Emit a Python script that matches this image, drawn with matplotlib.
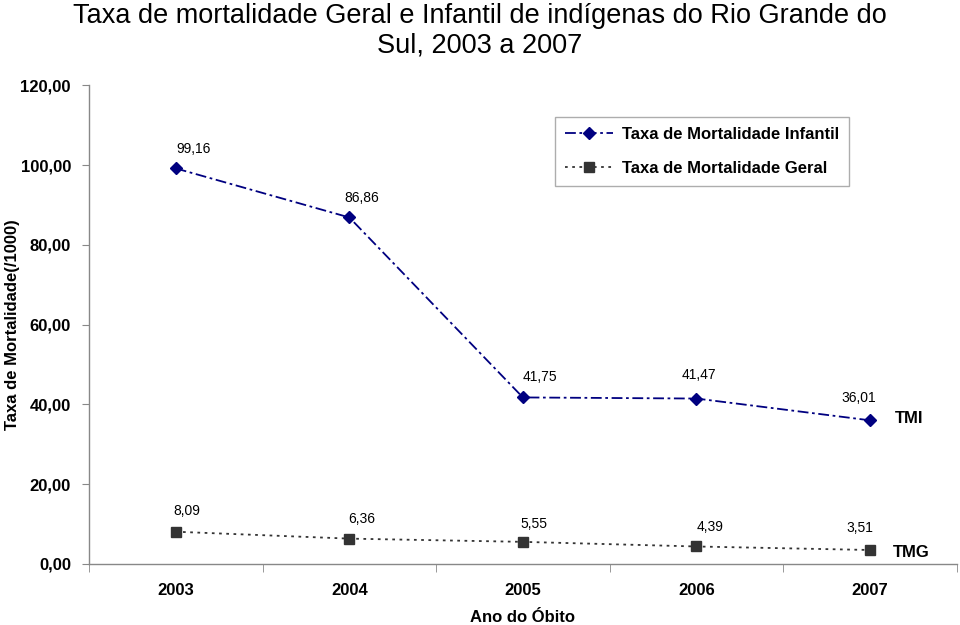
import matplotlib
matplotlib.use("Agg")
import matplotlib.pyplot as plt
from matplotlib.ticker import FixedLocator, FuncFormatter

plt.rcParams["font.family"] = ["Liberation Sans", "DejaVu Sans"]

years = ["2003", "2004", "2005", "2006", "2007"]
tmi = [99.16, 86.86, 41.75, 41.47, 36.01]
tmg = [8.09, 6.36, 5.55, 4.39, 3.51]
y_ticks = [0, 20, 40, 60, 80, 100, 120]

# label offsets in points (dx, dy), as placed in the original
tmi_off = [(13, 14), (9, 14), (12, 15), (2, 17), (-8, 16)]
tmg_off = [(8, 15), (9, 14), (8, 13), (10, 14), (-7, 16)]

fmt = lambda v: f"{v:.2f}".replace(".", ",")

fig = plt.figure(figsize=(9.6, 6.25), dpi=100)
ax = fig.add_axes([0.0927, 0.0976, 0.904, 0.766])
x = list(range(len(years)))

ax.plot(x, tmi, color="#000080", linestyle=(0, (6, 2, 1.5, 2)), linewidth=1.3,
        marker="D", markersize=6.5, label="Taxa de Mortalidade Infantil")
ax.plot(x, tmg, color="#333333", linestyle=(0, (1.5, 2.5)), linewidth=1.3,
        marker="s", markersize=7, label="Taxa de Mortalidade Geral")

for xi, v, (dx, dy) in zip(x, tmi, tmi_off):
    ax.annotate(fmt(v), (xi, v), xytext=(dx, dy), textcoords="offset points",
                ha="center", va="center", fontsize=10)
for xi, v, (dx, dy) in zip(x, tmg, tmg_off):
    ax.annotate(fmt(v), (xi, v), xytext=(dx, dy), textcoords="offset points",
                ha="center", va="center", fontsize=10)

ax.annotate("TMI", (x[-1], tmi[-1]), xytext=(28, 1), textcoords="offset points",
            ha="center", va="center", fontsize=12, fontweight="bold")
ax.annotate("TMG", (x[-1], tmg[-1]), xytext=(30, -2), textcoords="offset points",
            ha="center", va="center", fontsize=12, fontweight="bold")

ax.set_xlim(-0.5, len(years) - 0.5)
ax.set_ylim(0, 120)
ax.set_xticks(x)
ax.set_xticklabels(years, fontsize=12, fontweight="bold")
ax.xaxis.set_minor_locator(FixedLocator([i - 0.5 for i in range(len(years) + 1)]))
ax.tick_params(axis="x", which="major", length=0, pad=14)
ax.tick_params(axis="x", which="minor", length=6, color="#888888", direction="out")
ax.set_yticks(y_ticks)
ax.yaxis.set_major_formatter(FuncFormatter(lambda v, p: fmt(v)))
ax.tick_params(axis="y", length=5, color="#888888", labelsize=12, pad=8)
for lab in ax.get_yticklabels():
    lab.set_fontweight("bold")

for s in ("top", "right"):
    ax.spines[s].set_visible(False)
for s in ("left", "bottom"):
    ax.spines[s].set_color("#888888")
    ax.spines[s].set_linewidth(1)

ax.set_xlabel("Ano do Óbito", fontsize=12, fontweight="bold", labelpad=8)
ax.set_ylabel("Taxa de Mortalidade(/1000)", fontsize=12, fontweight="bold")
ax.yaxis.set_label_coords(-0.080, 0.5)

leg = ax.legend(loc="upper left", bbox_to_anchor=(0.537, 0.933), borderaxespad=0,
                fontsize=12, frameon=True, fancybox=False, edgecolor="#999999",
                handlelength=2.9, handletextpad=0.5, borderpad=0.6, labelspacing=1.1)
leg.get_frame().set_linewidth(1)
for t in leg.get_texts():
    t.set_fontweight("bold")

fig.text(0.5, 0.975, "Taxa de mortalidade Geral e Infantil de indígenas do Rio Grande do",
         ha="center", va="center", fontsize=19.5)
fig.text(0.5, 0.927, "Sul, 2003 a 2007", ha="center", va="center", fontsize=19.5)

fig.savefig("out.png", dpi=100)
